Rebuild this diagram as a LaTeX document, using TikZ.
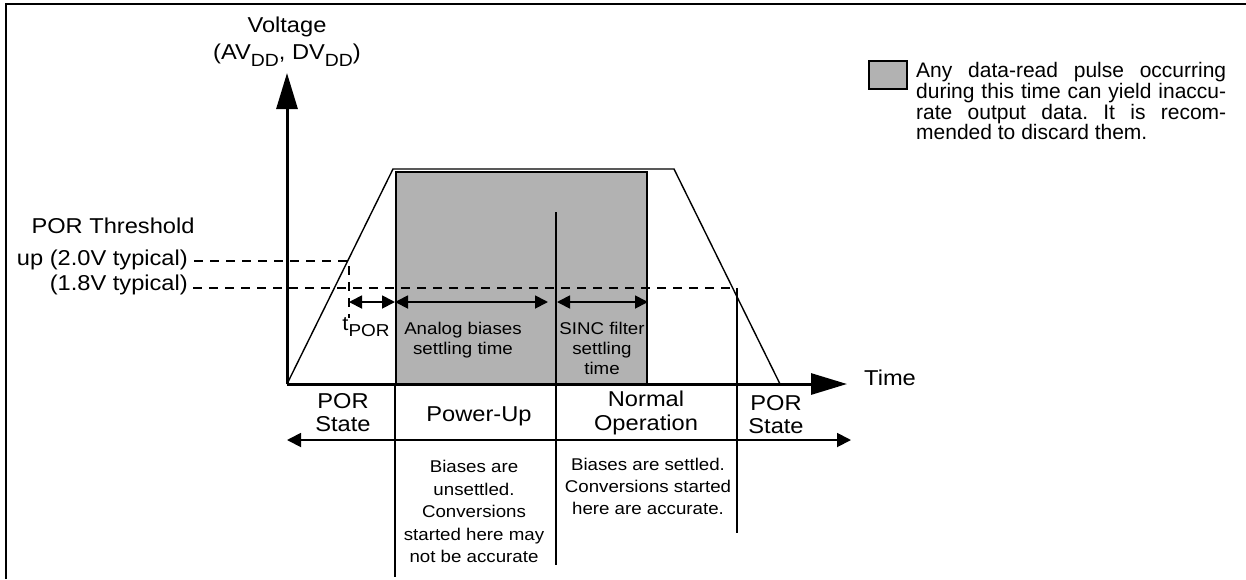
\documentclass[tikz,border=0pt]{standalone}
\usepackage{fontspec}
\setmainfont{Liberation Sans}[FakeStretch=1.1]
\newfontfamily\legendfont{Liberation Sans}
\usepackage{graphicx}
\usetikzlibrary{arrows.meta}
\newcommand{\subtxt}[1]{\raisebox{-0.3em}{\scalebox{0.82}{#1}}}
\frenchspacing

\begin{document}
\begin{tikzpicture}[x=1pt,y=-1pt,
  axis/.style={line width=3pt, -{Triangle[length=36pt,width=21pt]}},
  ramp/.style={line width=1.4pt, line join=miter},
  busy/.style={draw, line width=2.2pt, fill=gray!60},
  divider/.style={line width=2pt},
  thr/.style={line width=1.8pt, dash pattern=on 9pt off 7pt},
  span/.style={line width=1.8pt, {Triangle[length=13pt,width=13pt]}-{Triangle[length=13pt,width=13pt]}},
  phase/.style={line width=1.8pt, {Triangle[length=14pt,width=14pt]}-{Triangle[length=14pt,width=14pt]}},
  big/.style={font=\fontsize{21.5}{23}\selectfont, inner sep=0pt, align=center},
  small/.style={font=\fontsize{17}{20}\selectfont, inner sep=0pt, align=center},
  note/.style={font=\fontsize{17}{22.5}\selectfont, inner sep=0pt, align=center}]
\useasboundingbox (0,0) rectangle (1246,579);
% ---- frame ----
\coordinate (fl) at (6,579);
\coordinate (fc) at (6,4);
\coordinate (fr) at (1246,4);
\draw[line width=2pt] (fl) -- (fc) -- (fr);
% ---- shaded region ----
\coordinate (gTL) at (396,172);
\coordinate (gBR) at (647,384);
\draw[busy] (gTL) rectangle (gBR);
% ---- supply ramp ----
\coordinate (O) at (287,384);
\coordinate (rampA) at (393,169);
\coordinate (rampB) at (674,169);
\coordinate (rampE) at (780,384);
\draw[ramp] (O) -- (rampA) -- (rampB) -- (rampE);
% ---- axes ----
\coordinate (ytip) at (287,73);
\coordinate (xtip) at (847,384);
\draw[axis] (O) -- (ytip);
\draw[axis] (O) -- (xtip);
\node[big, anchor=north] (ylab) at (287,17)
  {Voltage\\[4pt](AV\subtxt{DD}, DV\subtxt{DD})};
\node[big, anchor=base west] (xlab) at (864,385) {Time};
% ---- thresholds ----
\node[big, anchor=base] (porth) at (113,233) {POR Threshold};
\node[big, anchor=base east] (up) at (188,265) {up (2.0V typical)};
\node[big, anchor=base east] (dn) at (188,290) {(1.8V typical)};
\coordinate (t2a) at (194,261);
\coordinate (t2b) at (349,261);
\coordinate (t2c) at (349,318);
\coordinate (t1a) at (193,288);
\coordinate (t1b) at (737,288);
\draw[thr] (t2a) -- (t2b) -- (t2c);
\draw[thr] (t1a) -- (t1b);
% ---- phase dividers ----
\coordinate (d1a) at (395,384);
\coordinate (d1b) at (395,577);
\coordinate (d2a) at (556,212);
\coordinate (d2b) at (556,565);
\coordinate (d3a) at (737,288);
\coordinate (d3b) at (737,533);
\draw[divider] (d1a) -- (d1b);
\draw[divider] (d2a) -- (d2b);
\draw[divider] (d3a) -- (d3b);
% ---- settling times ----
\coordinate (s0) at (349,302);
\coordinate (s1) at (395,302);
\coordinate (s2) at (548,302);
\coordinate (s3) at (557,302);
\coordinate (s4) at (648,302);
\draw[span] (s0) -- (s1);
\draw[span] (s1) -- (s2);
\draw[span] (s3) -- (s4);
\node[inner sep=0pt, anchor=base, font=\fontsize{20}{22}\selectfont] (tpor) at (366,330)
  {t\subtxt{\fontsize{21}{22}\selectfont POR}};
\node[small, anchor=north] (abias) at (463,322) {Analog biases\\settling time};
\node[small, anchor=north] (sinc) at (602,322) {SINC filter\\settling\\time};
% ---- operating states ----
\coordinate (p0) at (287,440);
\coordinate (p1) at (851,440);
\draw[phase] (p0) -- (p1);
\node[big, anchor=north] (por1) at (343,393) {POR\\State};
\node[big, anchor=base] (pwr) at (479,421) {Power-Up};
\node[big, anchor=north, font=\fontsize{21.5}{23.5}\selectfont] (norm) at (646,391) {Normal\\Operation};
\node[big, anchor=north] (por2) at (776,395) {POR\\State};
\node[note, anchor=north] (n1) at (474,460)
  {Biases are\\unsettled.\\Conversions\\started here may\\not be accurate};
\node[note, font=\fontsize{17}{22}\selectfont, anchor=north] (n2) at (648,458)
  {Biases are settled.\\Conversions started\\here are accurate.};
% ---- legend ----
\node[busy, minimum width=38pt, minimum height=28pt, inner sep=0pt] (legbox) at (888,75) {};
\node[inner sep=0pt, anchor=north west, align=left,
      font=\legendfont\fontsize{21}{20.8}\selectfont] (legtxt) at (916,62)
  {\makebox[310pt][s]{Any data-read pulse occurring}\\
   \makebox[310pt][s]{during this time can yield inaccu-}\\
   \makebox[310pt][s]{rate output data. It is recom-}\\
   mended to discard them.};
\end{tikzpicture}
\end{document}
